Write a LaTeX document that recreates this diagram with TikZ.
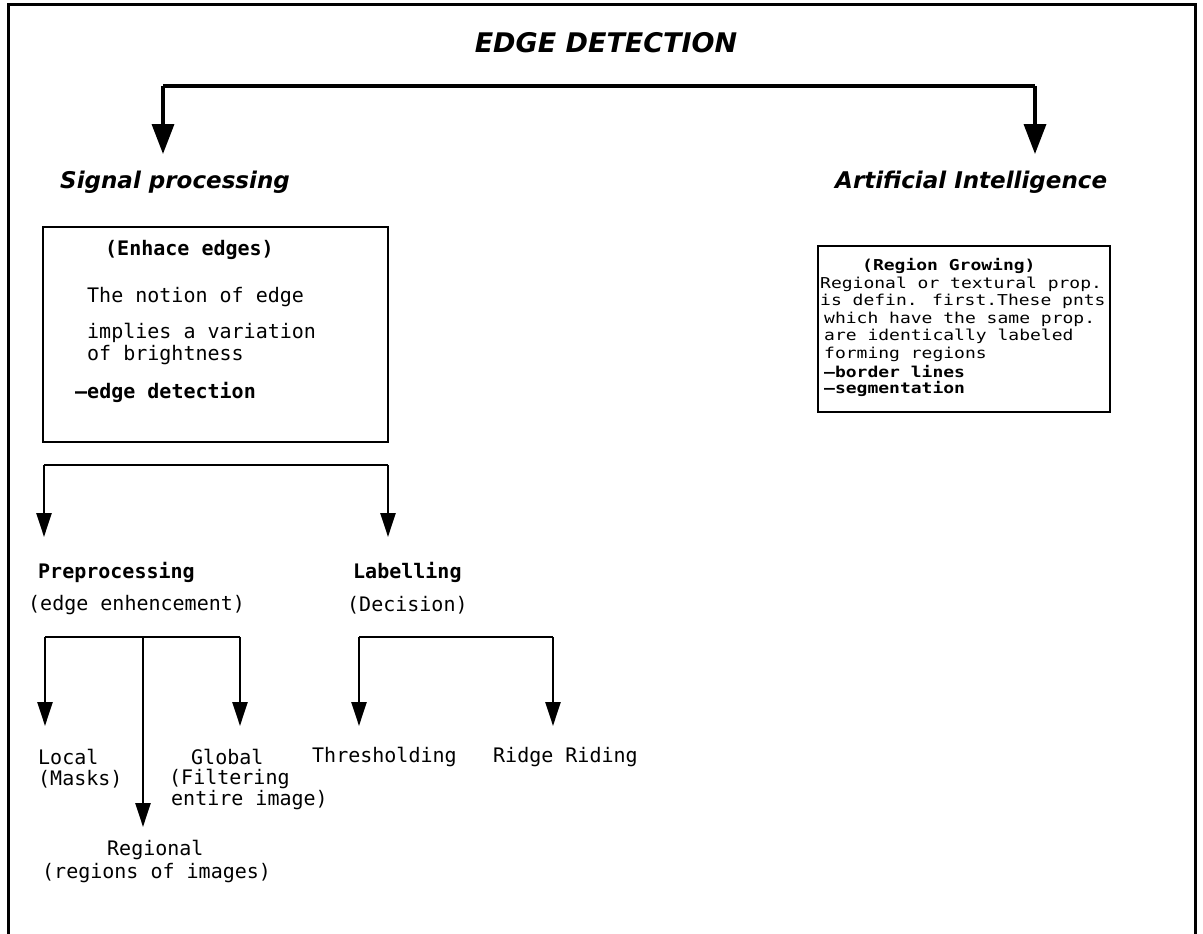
\documentclass[tikz,border=0pt]{standalone}
\usepackage{fontspec}
\usetikzlibrary{arrows.meta}
\newfontfamily\dotfont{DejaVu Sans Mono}
\newfontfamily\boxfont{DejaVu Sans Mono}[FakeStretch=1.2]
\newfontfamily\headfont{DejaVu Sans}

\tikzset{
  frameline/.style={line width=3pt, line cap=rect},
  trunk/.style={line width=3.5pt},
  bigtip/.style={line width=3.5pt, -{Triangle[width=22pt,length=30pt]}},
  twig/.style={line width=2.5pt},
  smalltip/.style={line width=2.5pt, -{Triangle[width=15pt,length=24pt]}},
  label/.style={inner sep=0pt, anchor=west, font=\dotfont\fontsize{20}{23}\selectfont},
  boldlabel/.style={label, font=\dotfont\bfseries\fontsize{20}{23}\selectfont},
  boxtext/.style={inner sep=0pt, anchor=west, font=\boxfont\fontsize{15}{17}\selectfont},
  boldboxtext/.style={boxtext, font=\boxfont\bfseries\fontsize{15}{17}\selectfont},
  branchname/.style={inner sep=0pt, anchor=west, font=\headfont\bfseries\itshape\fontsize{23}{26}\selectfont},
}

\begin{document}
\begin{tikzpicture}[x=1pt, y=-1pt]
\useasboundingbox (0,0) rectangle (1203,934);
\fill[white] (0,0) rectangle (1203,934);

% page frame, open at the bottom
\draw[frameline] (8,934) -- (8,5) -- (1195,5) -- (1195,934);

% title
\node[inner sep=0pt, font=\headfont\bfseries\itshape\fontsize{27}{30}\selectfont] (title) at (606,43) {EDGE DETECTION};

% first split
\coordinate (topL) at (163,86);
\coordinate (topR) at (1035,86);
\coordinate (sigtip) at (163,154);
\coordinate (aitip) at (1035,154);
\draw[trunk] (topL) -- (topR);
\draw[bigtip] (topL) -- (sigtip);
\draw[bigtip] (topR) -- (aitip);

\node[branchname] (sig) at (60,182) {Signal processing};
\node[branchname] (ai) at (835,182) {Artificial Intelligence};

% signal processing box
\node[draw, line width=2.5pt, minimum width=345pt, minimum height=215pt, inner sep=0pt] (sbox) at (215.5,334.5) {};
\node[boldlabel] (s1) at (105,250) {(Enhace edges)};
\node[label] (s2) at (87,297) {The notion of edge};
\node[label] (s3) at (87,333) {implies a variation};
\node[label] (s4) at (87,355) {of brightness};
\node[boldlabel] (s5) at (75,392) {–edge detection};

% artificial intelligence box
\node[draw, line width=1.3pt, minimum width=292pt, minimum height=166pt, inner sep=0pt] (abox) at (964,329) {};
\node[boldboxtext] (a1) at (862,266) {(Region Growing)};
\node[boxtext] (a2) at (820,284) {Regional or textural prop.};
\node[boxtext] (a3) at (820,301.5) {is defin. first.These pnts};
\node[boxtext] (a4) at (824,319) {which have the same prop.};
\node[boxtext] (a5) at (824,336.5) {are identically labeled};
\node[boxtext] (a6) at (824,354) {forming regions};
\node[boldboxtext] (a7) at (824,371.5) {–border lines};
\node[boldboxtext] (a8) at (824,389) {–segmentation};

% second split
\coordinate (midL) at (44,465);
\coordinate (midR) at (388,465);
\coordinate (pretip) at (44,537);
\coordinate (labtip) at (388,537);
\draw[twig] (midL) -- (midR);
\draw[smalltip] (midL) -- (pretip);
\draw[smalltip] (midR) -- (labtip);

\node[boldlabel] (pre) at (38,572) {Preprocessing};
\node[label] (preb) at (28,605) {(edge enhencement)};
\node[boldlabel] (lab) at (353,572) {Labelling};
\node[label] (labb) at (347,605) {(Decision)};

% preprocessing split
\coordinate (ppL) at (45,637);
\coordinate (ppM) at (143,637);
\coordinate (ppR) at (240,637);
\coordinate (loctip) at (45,726);
\coordinate (regtip) at (143,827);
\coordinate (glotip) at (240,726);
\draw[twig] (ppL) -- (ppR);
\draw[smalltip] (ppL) -- (loctip);
\draw[smalltip] (ppM) -- (regtip);
\draw[smalltip] (ppR) -- (glotip);

\node[label] (loc1) at (38,757) {Local};
\node[label] (loc2) at (38,779) {(Masks)};
\node[label] (glo1) at (191,757) {Global};
\node[label] (glo2) at (169,779) {(Filtering};
\node[label] (glo3) at (171,800) {entire image)};
\node[label] (reg1) at (107,850) {Regional};
\node[label] (reg2) at (42,873) {(regions of images)};

% labelling split
\coordinate (lbL) at (359,637);
\coordinate (lbR) at (553,637);
\coordinate (thrtip) at (359,726);
\coordinate (ridtip) at (553,726);
\draw[twig] (lbL) -- (lbR);
\draw[smalltip] (lbL) -- (thrtip);
\draw[smalltip] (lbR) -- (ridtip);

\node[label] (thr) at (312,757) {Thresholding};
\node[label] (rid) at (493,757) {Ridge Riding};
\end{tikzpicture}
\end{document}
